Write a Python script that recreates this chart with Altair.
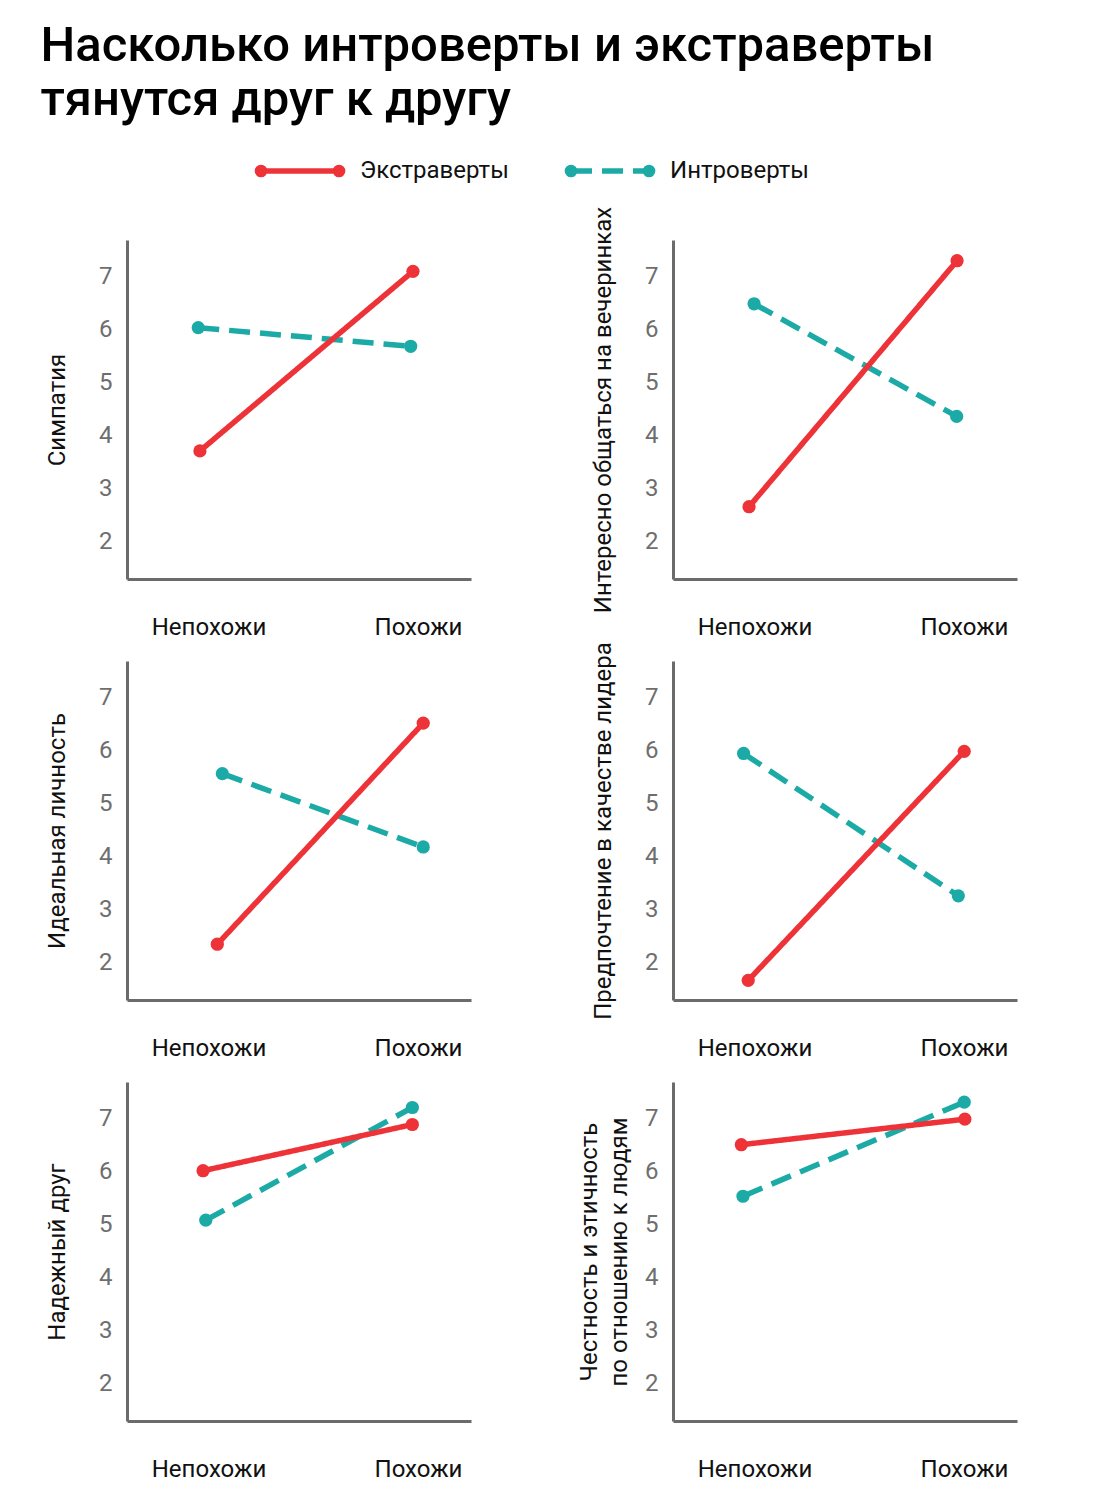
import altair as alt
import pandas as pd

# ---------------- data ----------------
conditions = ["Непохожи", "Похожи"]
series = ["Экстраверты", "Интроверты"]
panel_titles = [
    ["Симпатия"],
    ["Интересно общаться на вечеринках"],
    ["Идеальная личность"],
    ["Предпочтение в качестве лидера"],
    ["Надежный друг"],
    ["Честность и этичность", "по отношению к людям"],
]
# mean scores (left = Непохожи, right = Похожи)
extra_values = [[3.71, 7.09], [2.66, 7.29], [2.35, 6.51], [1.67, 5.98], [6.01, 6.88], [6.50, 6.98]]
intro_values = [[6.03, 5.68], [6.48, 4.36], [5.56, 4.18], [5.94, 3.26], [5.08, 7.20], [5.53, 7.30]]
# small horizontal offsets of the points around each condition
extra_offsets = [[-0.041, -0.024], [-0.026, -0.033], [0.042, 0.025], [-0.030, 0.001], [-0.026, -0.027], [-0.063, 0.004]]
intro_offsets = [[-0.049, -0.035], [-0.002, -0.035], [0.066, 0.025], [-0.052, -0.027], [-0.013, -0.027], [-0.055, 0.001]]
y_ticks = [2, 3, 4, 5, 6, 7]

# ---------------- style ----------------
RED = "#EE3338"
TEAL = "#1CAAA6"
FONT = "Roboto"
AXIS_GRAY = "#6b6b6b"
PW, PH = 344, 339
LW = 5.5
DASH = [21, 10]

color_scale = alt.Scale(domain=series, range=[RED, TEAL])
dash_scale = alt.Scale(domain=series, range=[[1, 0], DASH])

label_expr = "datum.value == 0 ? '%s' : '%s'" % (conditions[0], conditions[1])


def panel(i):
    rows = []
    for s, vals, offs in ((series[1], intro_values[i], intro_offsets[i]),
                          (series[0], extra_values[i], extra_offsets[i])):
        for k in range(2):
            rows.append({"series": s, "pos": k + offs[k], "value": vals[k],
                         "cond": conditions[k]})
    df = pd.DataFrame(rows)
    title = panel_titles[i]
    tpad = 29 if len(title) == 1 else 13
    base = alt.Chart(df).encode(
        x=alt.X("pos:Q",
                scale=alt.Scale(domain=[-0.389, 1.253], nice=False, zero=False),
                axis=alt.Axis(values=[0, 1], labelExpr=label_expr, title=None,
                              ticks=False, grid=False, domainColor=AXIS_GRAY,
                              domainWidth=3, labelFont=FONT, labelFontSize=24,
                              labelColor="#111", labelPadding=36)),
        y=alt.Y("value:Q",
                scale=alt.Scale(domain=[1.3, 7.68], nice=False, zero=False),
                axis=alt.Axis(values=y_ticks, title=title if len(title) > 1 else title[0],
                              ticks=False, grid=False, domainColor=AXIS_GRAY,
                              domainWidth=3, labelFont=FONT, labelFontSize=24,
                              labelColor="#6e6e6e", labelPadding=15,
                              titleFont=FONT, titleFontSize=24, titleFontWeight="normal",
                              titleColor="#111", titlePadding=tpad, titleLineHeight=30)),
        color=alt.Color("series:N", scale=color_scale, legend=None),
    )
    line = base.mark_line(strokeWidth=LW, strokeCap="butt").encode(
        strokeDash=alt.StrokeDash("series:N", scale=dash_scale, legend=None),
        detail="series:N",
    )
    pts = base.mark_circle(size=175, opacity=1)
    return alt.layer(line, pts).properties(width=PW, height=PH)


# ---------------- legend (own small chart, laid out by a point scale) ----------------
leg_rows = []
for s in series:
    for e in (0, 1):
        leg_rows.append({"series": s, "end": e})
leg_df = pd.DataFrame(leg_rows)
leg_width = 2 * PW + 202
leg_base = alt.Chart(leg_df).encode(
    x=alt.X("series:N", sort=series, axis=None,
            scale=alt.Scale(type="point", domain=series, padding=0.9355, align=0.2983)),
    xOffset=alt.XOffset("end:Q", scale=alt.Scale(domain=[0, 1], range=[-39, 39])),
    y=alt.value(12),
)
leg_line = leg_base.mark_line(strokeWidth=LW, strokeCap="butt").encode(
    color=alt.Color("series:N", scale=color_scale, legend=None),
    strokeDash=alt.StrokeDash("series:N", scale=dash_scale, legend=None),
    detail="series:N",
)
leg_pts = leg_base.mark_circle(size=160, opacity=1).encode(
    color=alt.Color("series:N", scale=color_scale, legend=None))
leg_txt = leg_base.transform_filter("datum.end == 1").mark_text(
    align="left", baseline="middle", dx=21, font=FONT, fontSize=24, color="#111"
).encode(text="series:N")
legend = alt.layer(leg_line, leg_pts, leg_txt).properties(width=leg_width, height=24)

grid = alt.concat(*[panel(i) for i in range(6)], columns=2,
                  spacing={"row": 82, "column": 202}, bounds="flush")

chart = alt.vconcat(legend, grid, spacing=57, bounds="flush").properties(
    title=alt.TitleParams(
        text=["Насколько интроверты и экстраверты", "тянутся друг к другу"],
        anchor="start", frame="bounds", font=FONT, fontSize=49, fontWeight=500,
        color="#000", lineHeight=54, offset=34, dx=-5),
    padding={"left": 32, "top": 14, "right": 20, "bottom": 20},
).configure_view(stroke=None)

chart.save("out.html", embed_options={"renderer": "svg", "actions": False})
